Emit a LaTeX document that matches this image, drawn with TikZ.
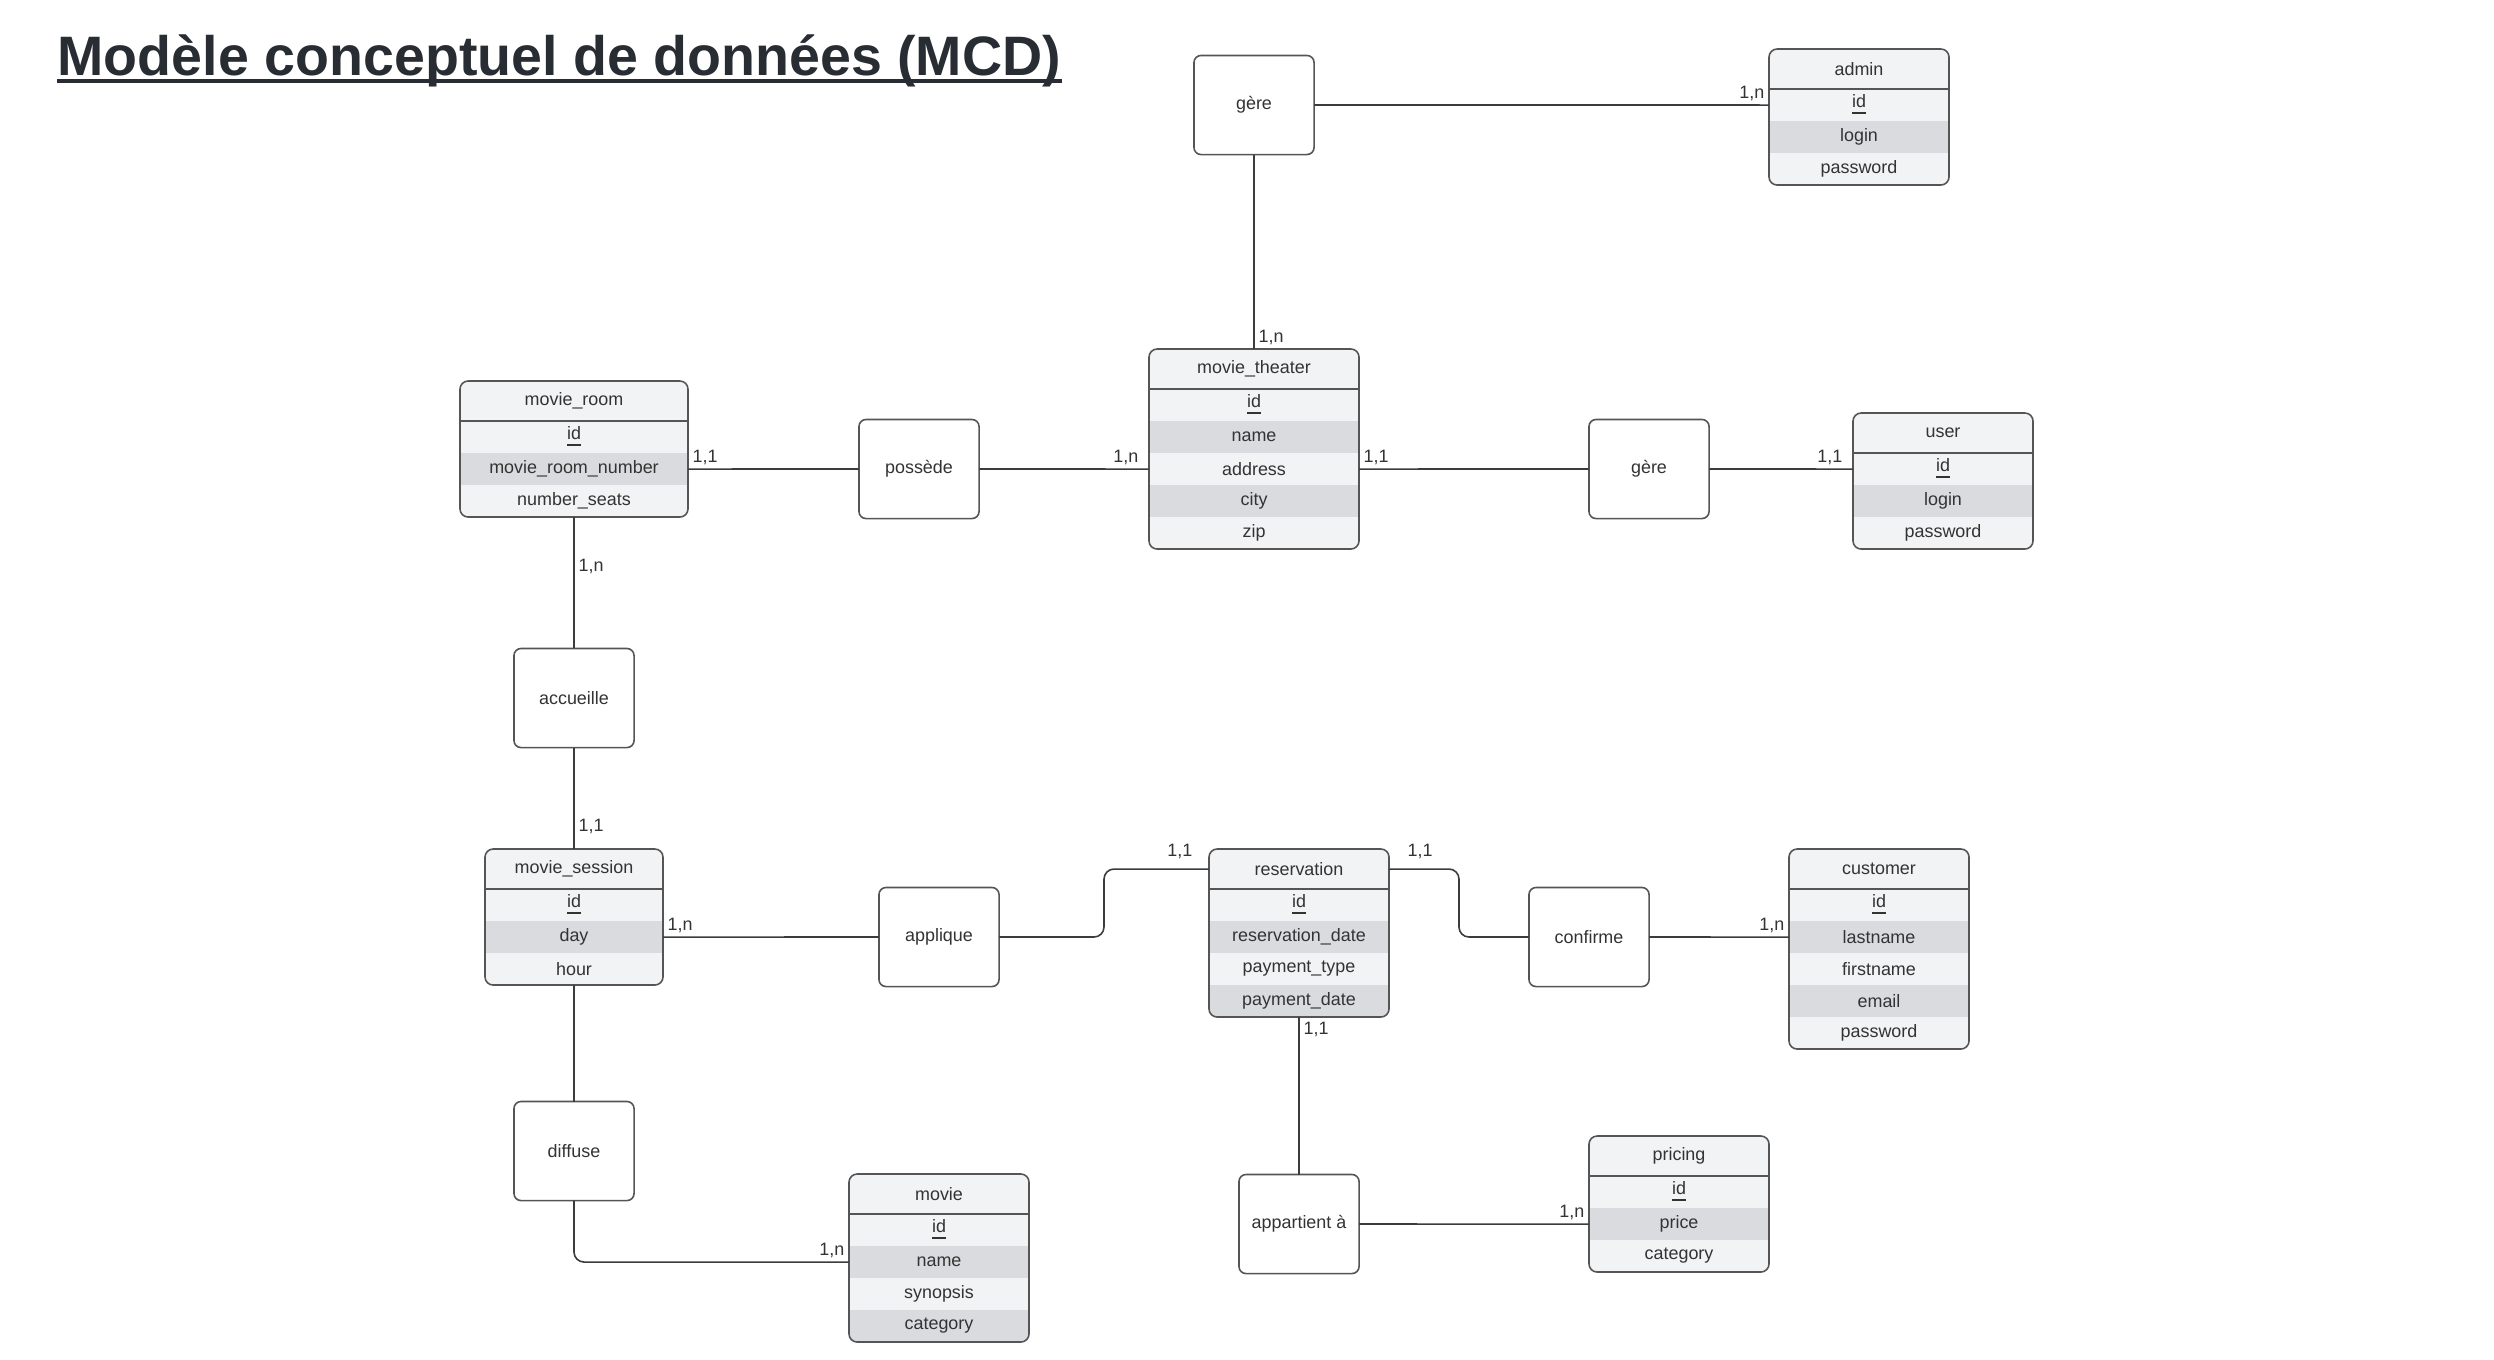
\documentclass[tikz,border=0pt]{standalone}
\usepackage{fontspec}
\setmainfont{Liberation Sans}
\usetikzlibrary{calc}
\definecolor{ink}{HTML}{333333}
\definecolor{titlec}{HTML}{282C33}
\definecolor{linec}{HTML}{3C3C3C}
\definecolor{entlight}{HTML}{F2F3F5}
\definecolor{entdark}{HTML}{DADBDE}
\definecolor{entborder}{HTML}{555555}

\newcommand{\entity}[5]{%
  \foreach \att [count=\n] in {#5}{\xdef\nrows{\n}}
  \coordinate (#1-nw) at #2;
  \coordinate (#1-se) at ($(#1-nw)+(#3,40+\nrows*32)$);
  \begin{scope}
    \clip[rounded corners=2.3pt] (#1-nw) rectangle (#1-se);
    \fill[entlight] (#1-nw) rectangle (#1-se);
    \node[enthead, minimum width={#3*0.01cm}, anchor=north west] (#1) at (#1-nw) {#4};
    \foreach \att [count=\n] in {#5}{
      \ifodd\n\relax\def\rowcol{entlight}\else\def\rowcol{entdark}\fi
      \node[entrow, fill=\rowcol, minimum width={#3*0.01cm}] (#1-\n) at ($(#1.south)+(0,\n*32-16)$) {\att};
    }
  \end{scope}
  \draw[entline, rounded corners=2.3pt] (#1-nw) rectangle (#1-se);
  \draw[entline] (#1.south west) -- (#1.south east);
}

\begin{document}
\begin{tikzpicture}[x=0.01cm,y=-0.01cm,
  every node/.style={text=ink,font=\fontsize{5.1pt}{6pt}\selectfont},
  enthead/.style={inner sep=0pt,outer sep=0pt,minimum height=0.40cm},
  entrow/.style={inner sep=0pt,outer sep=0pt,minimum height=0.32cm},
  entline/.style={draw=entborder,line width=0.45pt},
  rel/.style={draw=entborder,fill=white,line width=0.45pt,rounded corners=2pt,
    inner sep=0pt,outer sep=0pt,minimum width=1.20cm,minimum height=0.99cm},
  link/.style={draw=linec,line width=0.45pt},
  card/.style={inner sep=0.04cm}]
  \useasboundingbox (0,0) rectangle (2494,1359);

  \node[text=titlec,font=\fontsize{15.8pt}{18pt}\selectfont\bfseries,inner sep=0pt,anchor=base west]
    (title) at (57,75) {Modèle conceptuel de données (MCD)};
  \draw[titlec,line width=0.04cm] ($(title.base west)+(0,6)$) -- ($(title.base east)+(0,6)$);

  \entity{admin}{(1769,49)}{180}{admin}{\underline{id},login,password}
  \entity{theater}{(1149,349)}{210}{movie\_theater}{\underline{id},name,address,city,zip}
  \entity{room}{(460,381)}{228}{movie\_room}{\underline{id},movie\_room\_number,number\_seats}
  \entity{user}{(1853,413)}{180}{user}{\underline{id},login,password}
  \entity{session}{(485,849)}{178}{movie\_session}{\underline{id},day,hour}
  \entity{res}{(1209,849)}{180}{reservation}{\underline{id},reservation\_date,payment\_type,payment\_date}
  \entity{customer}{(1789,849)}{180}{customer}{\underline{id},lastname,firstname,email,password}
  \entity{pricing}{(1589,1136)}{180}{pricing}{\underline{id},price,category}
  \entity{movie}{(849,1174)}{180}{movie}{\underline{id},name,synopsis,category}

  \node[rel] (gere1) at (1254,105) {gère};
  \node[rel] (possede) at (919,469) {possède};
  \node[rel] (gere2) at (1649,469) {gère};
  \node[rel] (accueille) at (574,698) {accueille};
  \node[rel] (applique) at (939,937) {applique};
  \node[rel] (confirme) at (1589,937) {confirme};
  \node[rel] (diffuse) at (574,1151) {diffuse};
  \node[rel] (appartient) at (1299,1224) {appartient à};

  \draw[link] (gere1.east) -- (admin-1.west);
  \draw[link] (gere1.south) -- (theater.north);
  \draw[link] (room-2.east) -- (possede.west);
  \draw[link] (possede.east) -- (theater-3.west);
  \draw[link] (theater-3.east) -- (gere2.west);
  \draw[link] (gere2.east) -- (user-1.west);
  \draw[link] (room-3.south) -- (accueille.north);
  \draw[link] (accueille.south) -- (session.north);
  \draw[link] (session-2.east) -- (applique.west);
  \draw[link,rounded corners=0.1cm] (applique.east) -| ($(applique.east)!0.5!(res.west)$) |- (res.west);
  \draw[link,rounded corners=0.1cm] (res.east) -| ($(res.east)!0.5!(confirme.west)$) |- (confirme.west);
  \draw[link] (confirme.east) -- (customer-2.west);
  \draw[link] (res-4.south) -- (appartient.north);
  \draw[link] (appartient.east) -- (pricing-2.west);
  \draw[link] (session-3.south) -- (diffuse.north);
  \draw[link,rounded corners=0.1cm] (diffuse.south) |- (movie-2.west);

  \node[card,anchor=south east] (c1) at (admin-1.west) {1,n};
  \node[card,anchor=south west] (c2) at (theater.north) {1,n};
  \node[card,anchor=south west] (c3) at (room-2.east) {1,1};
  \node[card,anchor=south east] (c4) at ($(theater-3.west)+(-6,0)$) {1,n};
  \node[card,anchor=south west] (c5) at (theater-3.east) {1,1};
  \node[card,anchor=south east] (c6) at ($(user-1.west)+(-6,0)$) {1,1};
  \node[card,anchor=west] (c7) at ($(room-3.south)+(0,49)$) {1,n};
  \node[card,anchor=south west] (c8) at ($(session.north)+(0,-11)$) {1,1};
  \node[card,anchor=south west] (c9) at (session-2.east) {1,n};
  \node[card,anchor=south east] (c10) at ($(res.west)+(-12,-6)$) {1,1};
  \node[card,anchor=south west] (c11) at ($(res.east)+(14,-6)$) {1,1};
  \node[card,anchor=south east] (c12) at (customer-2.west) {1,n};
  \node[card,anchor=north west] (c13) at (res-4.south) {1,1};
  \node[card,anchor=south east] (c14) at (pricing-2.west) {1,n};
  \node[card,anchor=south east] (c15) at (movie-2.west) {1,n};
\end{tikzpicture}
\end{document}
